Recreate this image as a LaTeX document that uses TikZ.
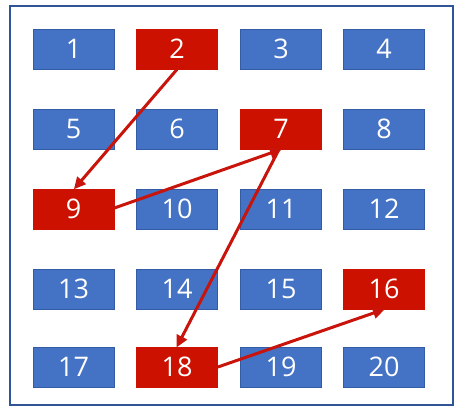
\documentclass[tikz,border=0pt]{standalone}
\usepackage{fontspec}
\setmainfont{Open Sans}
\usetikzlibrary{arrows.meta}
\definecolor{boxblue}{RGB}{68,114,196}
\definecolor{boxblueline}{RGB}{52,92,165}
\definecolor{boxred}{RGB}{204,17,0}
\definecolor{arrred}{RGB}{200,20,10}
\definecolor{framecol}{RGB}{47,85,151}
\tikzset{
  cell/.style={draw=boxblueline, fill=boxblue, line width=0.8pt, minimum width=81pt, minimum height=40pt, inner sep=0pt, text=white, font=\fontsize{27}{27}\selectfont},
  hot/.style={cell, draw=boxred, fill=boxred},
  jump/.style={draw=arrred, line width=3pt, -{Triangle[length=12pt,width=11pt]}, shorten >=-1pt}
}
\begin{document}
\begin{tikzpicture}[x=1pt,y=-1pt]
\useasboundingbox (0,0) rectangle (467,415);
\draw[framecol, line width=1.3pt] (10,6) rectangle (453,405);
\node[cell] (n1) at (73.5,49) {1};
\node[hot]  (n2) at (177,49) {2};
\node[cell] (n3) at (281,49) {3};
\node[cell] (n4) at (384,49) {4};
\node[cell] (n5) at (73.5,129) {5};
\node[cell] (n6) at (177,129) {6};
\node[hot]  (n7) at (281,129) {7};
\node[cell] (n8) at (384,129) {8};
\node[hot]  (n9) at (73.5,209) {9};
\node[cell] (n10) at (177,209) {10};
\node[cell] (n11) at (281,209) {11};
\node[cell] (n12) at (384,209) {12};
\node[cell] (n13) at (73.5,289) {13};
\node[cell] (n14) at (177,289) {14};
\node[cell] (n15) at (281,289) {15};
\node[hot]  (n16) at (384,289) {16};
\node[cell] (n17) at (73.5,367) {17};
\node[hot]  (n18) at (177,367) {18};
\node[cell] (n19) at (281,367) {19};
\node[cell] (n20) at (384,367) {20};
\draw[jump] (n2.south) -- ([xshift=1pt]n9.north);
\draw[jump] ([yshift=1pt]n9.east) -- (n7.south);
\draw[jump, shorten <=0pt] ([xshift=-2pt]n7.south) -- (n18.north);
\draw[jump] (n18.east) -- (n16.south);
\end{tikzpicture}
\end{document}
